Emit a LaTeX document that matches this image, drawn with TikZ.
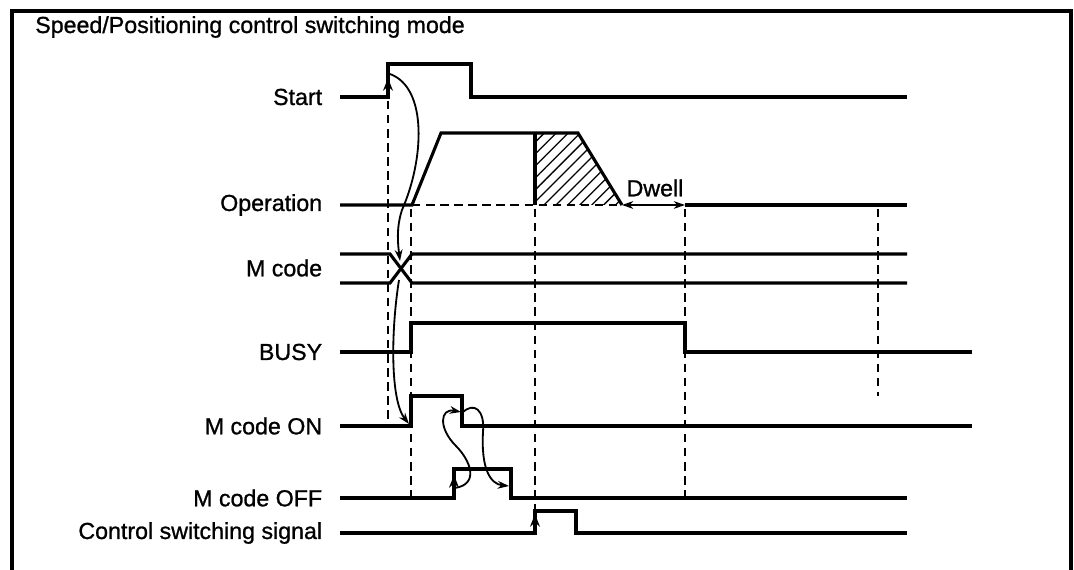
\documentclass[tikz,border=0pt]{standalone}
\usepackage{fontspec}
\setmainfont{Liberation Sans}
\newfontfamily\sigfont{Liberation Sans}[FakeBold=1]
\usetikzlibrary{arrows.meta,patterns.meta}

\tikzset{
  sig/.style={line width=2.2pt, line join=miter},
  guide/.style={line width=2pt, dash pattern=on 6pt off 4pt},
  cause/.style={->, line width=1.3pt},
  edge/.style={-{Stealth[length=9pt,width=7pt]}, line width=1.3pt},
  lbl/.style={anchor=east, inner xsep=12.5pt, inner ysep=0pt, font=\sigfont\fontsize{16.5}{18}\selectfont},
}

\begin{document}
\begin{tikzpicture}[>={Stealth[length=8pt,width=5.5pt]}, x=0.025cm, y=-0.025cm]
        \useasboundingbox (0,0) rectangle (1074,570);
        % Rahmen und Titel
        \draw[line width=2.5pt] (12,570) -- (12,11) -- (1071,11) -- (1071,570);
        \node[anchor=base west, inner sep=0pt, font=\sigfont\fontsize{16.5}{18}\selectfont] (title) at (35,33) {Speed/Positioning control switching mode};

        % Signalnamen
        \node[lbl] (start) at (340,97) {Start};
        \node[lbl] (oper) at (340,205) {Operation};
        \node[lbl] (mcode) at (340,268) {M code};
        \node[lbl] (busy) at (340,352) {BUSY};
        \node[lbl] (mon) at (340,426) {M code ON};
        \node[lbl] (moff) at (340,498) {M code OFF};
        \node[lbl] (csw) at (340,533) {Control switching signal};

        % Verlauf Betrieb (schraffiert: Abbremsen)
        \fill[pattern={Lines[angle=45, distance=6pt, line width=0.9pt]}] (535,133) -- (578,133) -- (622,205) -- (535,205) -- cycle;
        \draw[guide] (412,205) -- (622,205);
        \draw[sig] (oper.east) -- (412,205) -- (441,133) -- (578,133) -- (622,205);
        \draw[sig] (535,133) -- (535,205);
        \draw[<->, line width=1.4pt] (622,205) -- (685,205);
        \draw[sig] (685,205) -- (907,205);
        \node[font=\sigfont\fontsize{16.5}{18}\selectfont] (dwell) at (655,188) {Dwell};

        % Signale
        \draw[sig] (start.east) -- (388,97) -- (388,64) -- (471,64) -- (471,97) -- (907,97);
        \draw[sig] (mcode.east |- 0,254) -- (390,254) -- (412,283) -- (907,283);
        \draw[sig] (mcode.east |- 0,283) -- (390,283) -- (412,254) -- (907,254);
        \draw[sig] (busy.east) -- (411,352) -- (411,323) -- (685,323) -- (685,352) -- (972,352);
        \draw[sig] (mon.east) -- (411,426) -- (411,396) -- (462,396) -- (462,426) -- (972,426);
        \draw[sig] (moff.east) -- (454,498) -- (454,469) -- (511,469) -- (511,498) -- (907,498);
        \draw[sig] (csw.east) -- (535,533) -- (535,511) -- (576,511) -- (576,533) -- (907,533);

        % Pfeile an den Flanken
        \draw[edge] (388,97) -- (388,78);
        \draw[edge] (454,498) -- (454,475);
        \draw[edge] (535,533) -- (535,514);

        % Hilfslinien
        \draw[guide] (388,101) -- (388,420);
        \draw[guide] (411,209) -- (411,498);
        \draw[guide] (535,209) -- (535,510);
        \draw[guide] (685,209) -- (685,498);
        \draw[guide] (878,209) -- (878,396);

        % Wirkungspfeile
        \draw[cause] (390,74) .. controls (428,88) and (424,160) .. (402,210) .. controls (396,228) and (398,245) .. (400,261);
        \draw[cause] (399,280) .. controls (391,330) and (390,400) .. (409,424);
        \draw[cause] (455,488) .. controls (480,484) and (470,460) .. (456,446) .. controls (438,428) and (440,408) .. (461,412);
        \draw[cause] (462,413) .. controls (474,401) and (485,410) .. (483,432) .. controls (481,468) and (490,484) .. (509,486);
    \end{tikzpicture}
\end{document}
